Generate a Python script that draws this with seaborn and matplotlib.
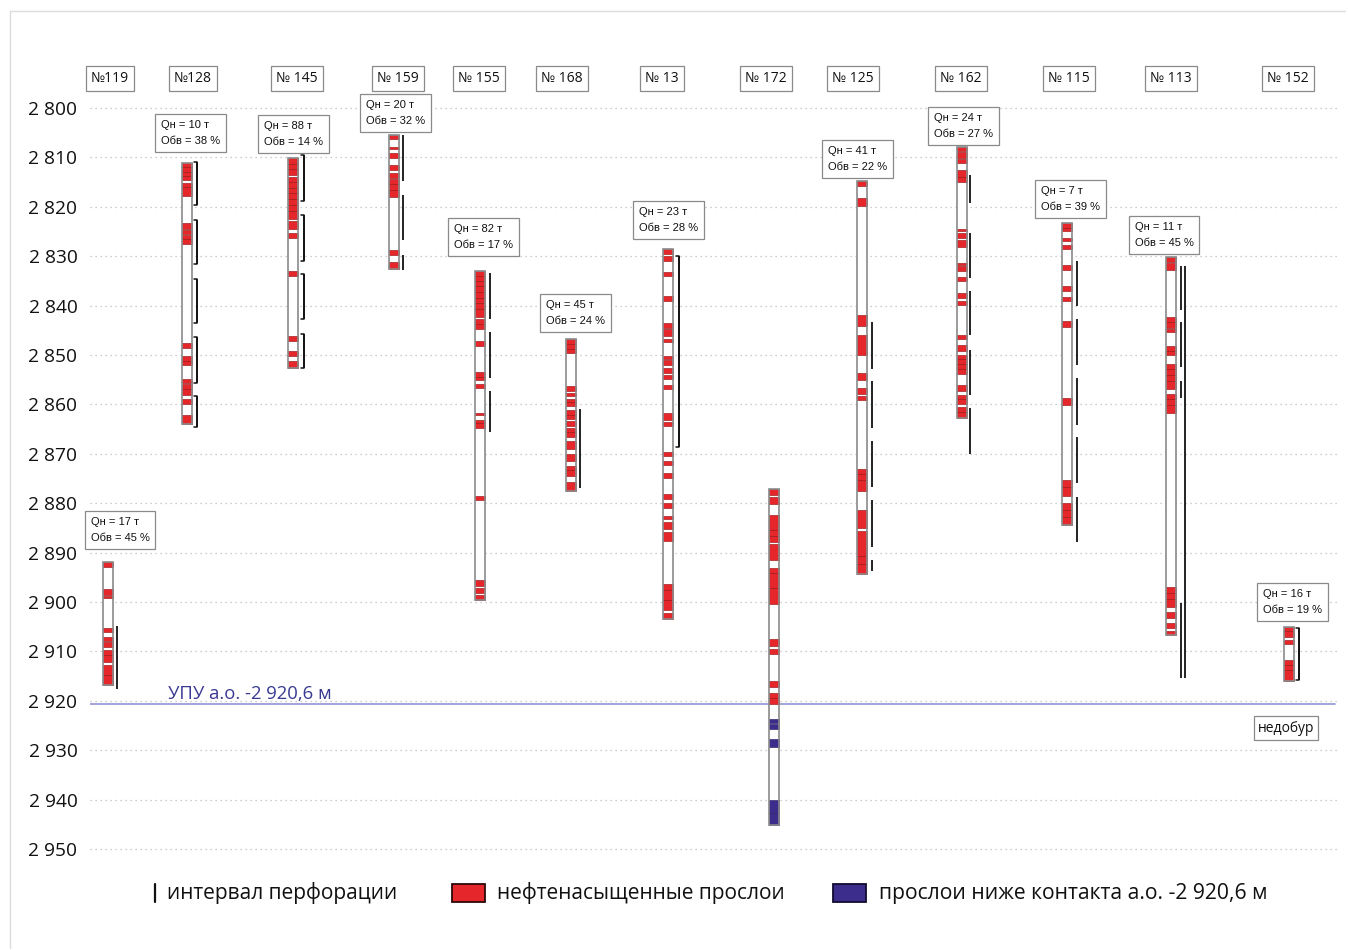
import matplotlib
matplotlib.use("Agg")
import matplotlib.pyplot as plt
from matplotlib.patches import Rectangle
from matplotlib.lines import Line2D
import seaborn as sns

# ---------------- data ----------------
wells = ["№119", "№128", "№ 145", "№ 159", "№ 155", "№ 168", "№ 13",
         "№ 172", "№ 125", "№ 162", "№ 115", "№ 113", "№ 152"]
well_top = [2892.0, 2811.1, 2810.1, 2805.5, 2833.0, 2846.7, 2828.6,
            2877.1, 2814.7, 2807.9, 2823.3, 2830.2, 2905.1]
well_bottom = [2916.9, 2863.9, 2852.7, 2832.5, 2899.6, 2877.6, 2903.5,
               2945.2, 2894.3, 2862.8, 2884.4, 2906.7, 2916.0]
q_oil = [17, 10, 88, 20, 82, 45, 23, None, 41, 24, 7, 11, 16]        # т
water_cut = [45, 38, 14, 32, 17, 24, 28, None, 22, 27, 39, 45, 19]  # %

contact_depth = 2920.6
depth_ticks = list(range(2800, 2951, 10))

# oil-saturated interlayers (top, bottom), m
oil_119 = [(2892.0, 2892.9), (2897.4, 2898.5), (2898.7, 2899.2), (2905.3, 2906.1),
           (2907.0, 2907.8), (2908.1, 2909.1), (2909.8, 2910.8), (2910.8, 2912.1),
           (2912.8, 2914.8), (2914.8, 2916.9)]
oil_128 = [(2811.1, 2812.0), (2812.0, 2812.9), (2813.0, 2813.7), (2813.7, 2814.5),
           (2815.1, 2816.0), (2816.0, 2817.9), (2823.2, 2824.4), (2824.7, 2825.6),
           (2825.8, 2826.6), (2826.6, 2827.6), (2847.6, 2848.5), (2850.3, 2851.2),
           (2851.2, 2852.1), (2854.8, 2855.7), (2855.8, 2856.8), (2856.8, 2858.0),
           (2859.0, 2860.0), (2862.2, 2863.9)]
oil_145 = [(2810.1, 2811.3), (2811.3, 2812.3), (2812.3, 2813.5), (2814.0, 2815.0),
           (2815.0, 2816.2), (2816.2, 2817.2), (2817.2, 2818.4), (2818.4, 2819.6),
           (2819.6, 2820.9), (2820.9, 2822.5), (2822.9, 2824.5), (2825.3, 2826.3),
           (2833.0, 2834.0), (2846.1, 2847.2), (2849.1, 2850.2), (2851.2, 2852.7)]
oil_159 = [(2805.5, 2806.3), (2807.8, 2808.3), (2809.2, 2810.1), (2811.5, 2812.6),
           (2813.1, 2814.2), (2814.4, 2815.4), (2815.4, 2816.7), (2816.7, 2818.0),
           (2828.7, 2829.7), (2831.1, 2832.5)]
oil_155 = [(2833.0, 2834.0), (2834.0, 2835.0), (2835.0, 2836.0), (2836.0, 2837.2),
           (2837.2, 2838.4), (2838.4, 2839.4), (2839.4, 2840.6), (2840.6, 2842.4),
           (2842.8, 2843.7), (2843.7, 2844.7), (2847.1, 2848.1), (2853.4, 2854.4),
           (2854.4, 2855.1), (2855.8, 2856.6), (2861.8, 2862.2), (2863.1, 2863.8),
           (2863.8, 2864.8), (2878.5, 2879.4), (2895.6, 2896.8), (2897.2, 2898.1),
           (2898.6, 2899.6)]
oil_168 = [(2846.7, 2847.7), (2847.7, 2848.7), (2848.7, 2849.5), (2856.2, 2857.3),
           (2857.6, 2858.4), (2858.9, 2859.6), (2859.6, 2860.4), (2861.1, 2862.1),
           (2862.1, 2862.9), (2863.4, 2864.4), (2864.8, 2865.6), (2865.6, 2866.7),
           (2867.5, 2869.1), (2870.1, 2871.5), (2872.5, 2873.3), (2873.3, 2874.5),
           (2875.8, 2877.6)]
oil_13 = [(2828.6, 2829.5), (2829.9, 2830.9), (2833.2, 2834.0), (2838.1, 2839.1),
          (2843.5, 2844.6), (2844.7, 2846.1), (2846.8, 2847.4), (2850.2, 2850.9),
          (2851.1, 2852.1), (2852.6, 2853.6), (2854.1, 2854.9), (2856.0, 2856.8),
          (2861.8, 2863.1), (2863.5, 2864.3), (2869.6, 2870.5), (2871.5, 2872.3),
          (2873.8, 2874.8), (2878.1, 2879.2), (2879.9, 2880.9), (2882.5, 2883.2),
          (2883.9, 2885.2), (2885.9, 2887.7), (2896.3, 2897.6), (2897.6, 2899.6),
          (2899.6, 2901.6), (2902.3, 2903.5)]
oil_172 = [(2877.1, 2878.3), (2878.7, 2880.2), (2882.3, 2885.4), (2885.4, 2886.7),
           (2886.7, 2887.8), (2888.2, 2891.4), (2893.2, 2894.1), (2894.1, 2897.1),
           (2897.1, 2900.4), (2907.5, 2909.0), (2909.5, 2910.6), (2915.9, 2917.2),
           (2918.4, 2919.5), (2919.5, 2920.6)]
oil_125 = [(2814.7, 2815.8), (2818.3, 2819.8), (2842.0, 2844.1), (2846.0, 2850.0),
           (2853.6, 2855.0), (2856.6, 2857.8), (2858.4, 2859.2), (2873.0, 2874.0),
           (2874.0, 2875.4), (2875.4, 2877.5), (2881.3, 2885.1), (2885.6, 2890.7),
           (2890.7, 2892.4), (2892.4, 2894.3)]
oil_162 = [(2807.9, 2808.7), (2809.0, 2810.1), (2810.3, 2811.1), (2812.5, 2813.9),
           (2813.9, 2814.9), (2824.5, 2825.0), (2825.4, 2826.3), (2826.8, 2828.1),
           (2831.3, 2831.8), (2832.0, 2833.0), (2834.2, 2835.1), (2837.5, 2838.4),
           (2839.1, 2839.8), (2845.9, 2846.7), (2847.9, 2849.2), (2849.9, 2850.9),
           (2850.9, 2851.8), (2851.8, 2852.8), (2852.8, 2853.9), (2856.1, 2857.3),
           (2858.0, 2858.9), (2858.9, 2859.9), (2860.6, 2861.5), (2861.5, 2862.8)]
oil_115 = [(2823.3, 2824.2), (2824.2, 2825.0), (2826.3, 2827.0), (2827.7, 2828.5),
           (2831.8, 2832.8), (2836.1, 2837.0), (2838.2, 2839.1), (2843.2, 2844.3),
           (2858.7, 2860.1), (2875.4, 2876.8), (2876.8, 2878.5), (2879.9, 2881.3),
           (2881.3, 2882.7), (2882.7, 2884.4)]
oil_113 = [(2830.2, 2831.2), (2831.4, 2832.7), (2842.3, 2843.4), (2843.4, 2844.6),
           (2844.8, 2845.4), (2848.1, 2849.1), (2849.1, 2850.0), (2851.9, 2852.8),
           (2852.8, 2854.1), (2854.1, 2855.3), (2855.3, 2856.8), (2857.9, 2859.0),
           (2859.0, 2860.2), (2860.2, 2861.7), (2896.9, 2898.1), (2898.1, 2899.3),
           (2899.3, 2901.0), (2902.1, 2903.2), (2904.3, 2905.3), (2905.9, 2906.7)]
oil_152 = [(2905.1, 2905.9), (2905.9, 2907.0), (2907.6, 2908.6), (2911.7, 2912.8),
           (2912.8, 2913.7), (2913.7, 2916.0)]

# interlayers below the oil-water contact
below_172 = [(2923.6, 2924.4), (2924.6, 2925.8), (2927.8, 2929.4),
             (2940.0, 2942.8), (2942.8, 2945.2)]

# perforation intervals (top, bottom), m
perf_119 = [(2904.9, 2917.6)]
perf_128 = [(2810.9, 2819.7), (2822.6, 2831.6), (2834.6, 2843.6),
            (2846.4, 2855.7), (2858.3, 2864.5)]
perf_145 = [(2809.6, 2818.9), (2821.6, 2831.0), (2833.7, 2842.8), (2845.7, 2852.6)]
perf_159 = [(2805.5, 2814.7), (2817.6, 2826.8), (2829.7, 2832.7)]
perf_155 = [(2833.3, 2842.7), (2845.4, 2854.6), (2857.3, 2865.5)]
perf_168 = [(2861.0, 2877.0)]
perf_13 = [(2829.9, 2868.7)]
perf_172 = []
perf_125 = [(2843.4, 2852.8), (2855.2, 2864.8), (2867.4, 2876.8),
            (2879.4, 2888.8), (2891.4, 2893.8)]
perf_162 = [(2813.6, 2819.3), (2825.4, 2834.4), (2837.0, 2846.0),
            (2849.0, 2858.0), (2860.8, 2870.0)]
perf_115 = [(2830.9, 2840.0), (2842.7, 2852.0), (2854.6, 2864.1),
            (2866.6, 2875.9), (2878.7, 2887.9)]
perf_113 = [(2831.9, 2840.9), (2843.4, 2852.4), (2855.3, 2858.8), (2900.2, 2915.4)]
perf_113_outer = [(2831.9, 2915.4)]
perf_152 = [(2905.3, 2915.8)]

oil_layers = [oil_119, oil_128, oil_145, oil_159, oil_155, oil_168, oil_13,
              oil_172, oil_125, oil_162, oil_115, oil_113, oil_152]
perf_intervals = [perf_119, perf_128, perf_145, perf_159, perf_155, perf_168, perf_13,
                  perf_172, perf_125, perf_162, perf_115, perf_113, perf_152]

# ---------------- layout ----------------
W, H = 1348, 950
well_x = [108, 187, 293, 394, 480, 571, 668, 774, 862, 962, 1067, 1171, 1289]
name_x = [110, 193, 297, 398, 479, 562, 662, 766, 853, 961, 1069, 1171, 1288]
perf_dx = [9, 10, 11, 9, 10, 9, 11, 10, 10, 7.5, 10, 9.5, 10]
bracket = [False, True, True, False, False, False, True,
           False, False, False, False, False, True]
annot_left = [86, 156, 259, 361, 449, 541, 634, None, 823, 929, 1036, 1130, 1258]
annot_top_px = [511, 114, 115, 94, 218, 294, 201, None, 140, 107, 180, 216, 583]
col_w = 10

OIL = "#e5262b"
OIL_EDGE = "#9a1616"
BELOW = "#3c2c8c"
CONTACT = "#9c9cd8"
CONTACT_TXT = "#3a3a92"


def px_to_depth(y):
    return 2800 + (y - 108) / 4.94


sns.set_theme(style="white")
plt.rcParams["font.family"] = ["Open Sans", "DejaVu Sans"]

fig = plt.figure(figsize=(W / 100, H / 100), dpi=100)
fig.patch.set_facecolor("white")
ax = fig.add_axes([90 / W, 1 - 860 / H, 1250 / W, 805 / H])
ax.set_xlim(90, 1340)
ax.set_ylim(px_to_depth(860), px_to_depth(55))
for s in ax.spines.values():
    s.set_visible(False)
ax.set_xticks([])
ax.set_yticks(depth_ticks)
ax.set_yticklabels([f"{t // 1000} {t % 1000:03d}" for t in depth_ticks],
                   fontsize=13.8, color="#111111")
ax.tick_params(axis="y", length=0, pad=9)
ax.yaxis.grid(True, linestyle=(0, (1, 3)), color="#bdbdbd", linewidth=0.9)
ax.set_axisbelow(True)

# oil-water contact
ax.axhline(contact_depth, xmin=0, xmax=(1335 - 90) / 1250, color=CONTACT, lw=1.3, zorder=1)
ax.text(168, contact_depth - 0.15, "УПУ а.о. -2 920,6 м", color=CONTACT_TXT,
        fontsize=13.3, ha="left", va="bottom", zorder=5)

for i, name in enumerate(wells):
    x = well_x[i]
    top, bot = well_top[i], well_bottom[i]
    # white column
    ax.bar(x, bot - top, bottom=top, width=col_w, color="white",
           edgecolor="none", zorder=2)
    for (a, b) in oil_layers[i]:
        ax.bar(x, b - a, bottom=a, width=col_w, color=OIL,
               edgecolor=OIL_EDGE, linewidth=0.45, zorder=3)
    if i == wells.index("№ 172"):
        for (a, b) in below_172:
            ax.bar(x, b - a, bottom=a, width=col_w, color=BELOW,
                   edgecolor="#2a1f66", linewidth=0.45, zorder=3)
    ax.bar(x, bot - top, bottom=top, width=col_w, color="none",
           edgecolor="#8a8a8a", linewidth=1.2, zorder=4)

    # perforations
    px = x + perf_dx[i]
    for (a, b) in perf_intervals[i]:
        ax.plot([px, px], [a, b], color="#111111", lw=1.3, zorder=4,
                solid_capstyle="butt")
        if bracket[i]:
            ax.plot([px - 3, px, px, px - 3], [a, a, b, b], color="#111111",
                    lw=1.1, zorder=4)
    if i == wells.index("№ 113"):
        for (a, b) in perf_113_outer:
            ax.plot([px + 4, px + 4], [a, b], color="#111111", lw=1.3, zorder=4,
                    solid_capstyle="butt")

    # well name
    ax.text(name_x[i], px_to_depth(78.5), name, ha="center", va="center",
            fontsize=10, color="#111111", zorder=6,
            bbox=dict(boxstyle="square,pad=0.35", fc="white", ec="#8a8a8a", lw=0.9))

    # production box
    if q_oil[i] is not None:
        ax.text(annot_left[i] + 5, px_to_depth(annot_top_px[i] + 6),
                f"Qн = {q_oil[i]} т\nОбв = {water_cut[i]} %",
                ha="left", va="top", fontsize=8, linespacing=1.8,
                family=["Liberation Sans", "DejaVu Sans"], color="#111111", zorder=6,
                bbox=dict(boxstyle="square,pad=0.5", fc="white", ec="#8a8a8a", lw=0.9))

# "недобур" note for well 152
ax.text(1286, px_to_depth(728), "недобур", ha="center", va="center", fontsize=10,
        color="#111111", zorder=6,
        bbox=dict(boxstyle="square,pad=0.3", fc="white", ec="#8a8a8a", lw=0.9))

# ---------------- legend ----------------
def fx(x):
    return x / W


def fy(y):
    return 1 - y / H


fig.add_artist(Line2D([fx(155), fx(155)], [fy(884), fy(902)], color="#111111",
                      lw=1.6, transform=fig.transFigure))
fig.text(fx(167), fy(893), "интервал перфорации", fontsize=15, va="center", ha="left",
         color="#111111")
fig.add_artist(Rectangle((fx(452), fy(902)), fx(33), 18 / H, facecolor=OIL,
                         edgecolor="#2a0a0a", lw=1.3, transform=fig.transFigure))
fig.text(fx(497), fy(893), "нефтенасыщенные прослои", fontsize=15, va="center",
         ha="left", color="#111111")
fig.add_artist(Rectangle((fx(833), fy(902)), fx(33), 18 / H, facecolor=BELOW,
                         edgecolor="#120a30", lw=1.3, transform=fig.transFigure))
fig.text(fx(879), fy(893), "прослои ниже контакта а.о. -2 920,6 м", fontsize=15.2,
         va="center", ha="left", color="#111111")

# thin frame lines at the top and left edges
fig.add_artist(Line2D([fx(10), fx(1345)], [fy(11), fy(11)], color="#dcdcdc", lw=1,
                      transform=fig.transFigure))
fig.add_artist(Line2D([fx(10), fx(10)], [fy(11), fy(948)], color="#dcdcdc", lw=1,
                      transform=fig.transFigure))

fig.savefig("out.png", dpi=100)
